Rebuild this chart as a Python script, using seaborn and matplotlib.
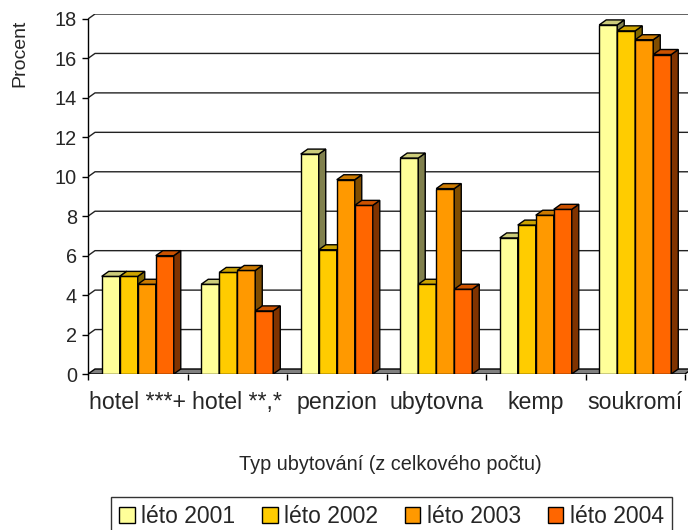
import numpy as np
import pandas as pd
import matplotlib
matplotlib.use("Agg")
import matplotlib.pyplot as plt
import seaborn as sns
from matplotlib.patches import Polygon, Patch
from matplotlib.colors import to_rgb

# ---------------- data ----------------
categories = ['hotel ***+', 'hotel **,*', 'penzion', 'ubytovna', 'kemp', 'soukromí']
series_names = ['léto 2001', 'léto 2002', 'léto 2003', 'léto 2004']
leto_2001 = [4.95, 4.55, 11.15, 10.95, 6.9, 17.7]
leto_2002 = [4.95, 5.15, 6.3, 4.55, 7.55, 17.4]
leto_2003 = [4.55, 5.25, 9.85, 9.4, 8.05, 16.95]
leto_2004 = [6.0, 3.2, 8.55, 4.3, 8.35, 16.2]
y_ticks = [0, 2, 4, 6, 8, 10, 12, 14, 16, 18]
colors = ['#FFFF99', '#FFCC00', '#FF9900', '#FF6600']
x_label = 'Typ ubytování (z celkového počtu)'
y_label = 'Procent'

series_values = [leto_2001, leto_2002, leto_2003, leto_2004]
df = pd.DataFrame({
    'Typ': [c for _ in series_names for c in categories],
    'Rok': [s for s in series_names for _ in categories],
    'Procent': [v for vals in series_values for v in vals],
})

# ---------------- style ----------------
sns.set_style('white')
plt.rcParams['font.family'] = ['Liberation Sans', 'DejaVu Sans']

W, H = 688, 530
fig = plt.figure(figsize=(W / 100, H / 100), dpi=100)
ax = fig.add_axes([88 / W, 1 - 374 / H, 600 / W, 360 / H])

sns.barplot(data=df, x='Typ', y='Procent', hue='Rok', order=categories,
            hue_order=series_names, palette=colors, width=0.724, saturation=1,
            edgecolor='black', linewidth=1, legend=False, errorbar=None, ax=ax)
ax.set_xlim(-0.5, -0.5 + 600 / 99.5)
ax.set_ylim(0, 18 * 360 / 355)

# depth offset (pixels -> data)
inv = ax.transData.inverted()
p0 = inv.transform((0, 0))
p1 = inv.transform((7, 5))
dx, dy = p1[0] - p0[0], p1[1] - p0[1]

x_lo, x_hi = ax.get_xlim()

# back-wall gridlines
for y in y_ticks[1:]:
    ax.plot([x_lo, x_lo + dx, x_hi + 1], [y, y + dy, y + dy], color='#222222',
            lw=1, zorder=1, clip_on=True)

# floor
floor = Polygon([(x_lo, 0), (5.5, 0), (5.5 + dx, dy), (x_lo + dx, dy)],
                closed=True, facecolor='#808080', edgecolor='black', lw=1, zorder=2)
ax.add_patch(floor)

# 3D faces
for j, cont in enumerate(ax.containers):
    base = np.array(to_rgb(colors[j]))
    top_c = base * 0.8
    side_c = base * 0.5
    for bar in cont:
        z = 3 + j
        bar.set_zorder(z)
        x0 = bar.get_x()
        w = bar.get_width()
        h = bar.get_height()
        x1 = x0 + w
        top = Polygon([(x0, h), (x1, h), (x1 + dx, h + dy), (x0 + dx, h + dy)],
                      closed=True, facecolor=top_c, edgecolor='black', lw=1, zorder=z)
        side = Polygon([(x1, 0), (x1 + dx, dy), (x1 + dx, h + dy), (x1, h)],
                       closed=True, facecolor=side_c, edgecolor='black', lw=1, zorder=z)
        ax.add_patch(side)
        ax.add_patch(top)

# axes / ticks
for s in ['top', 'right', 'bottom']:
    ax.spines[s].set_visible(False)
ax.spines['left'].set_color('black')
ax.spines['left'].set_linewidth(1)
ax.spines['left'].set_bounds(0, 18)
ax.spines['left'].set_zorder(10)

ax.set_yticks(y_ticks)
ax.set_yticklabels([str(t) for t in y_ticks])
ax.tick_params(axis='y', which='major', left=True, length=4, width=1,
               color='black', labelsize=14.3, pad=4, direction='out')

ax.set_xticks(np.arange(-0.5, len(categories), 1))
ax.set_xticklabels([])
ax.set_xticks(np.arange(len(categories)), minor=True)
ax.set_xticklabels(categories, minor=True)
ax.tick_params(axis='x', which='major', bottom=True, length=4.5, width=1,
               color='black', direction='out')
ax.tick_params(axis='x', which='minor', bottom=True, length=0, pad=12,
               labelsize=16.7)
ax.set_xlabel('')
ax.set_ylabel('')
ax.grid(False)

fig.text(20 / W, 1 - 53 / H, y_label, rotation=90, ha='center', va='center',
         fontsize=14)
fig.text(390 / W, 1 - 465 / H, x_label, ha='center', va='center', fontsize=14.3)

handles = [Patch(facecolor=c, edgecolor='black', lw=1) for c in colors]
leg = fig.legend(handles, series_names, loc='upper left',
                 bbox_to_anchor=(111 / W, 1 - 497 / H), ncol=4, fontsize=16.5,
                 frameon=True, fancybox=False, shadow=False, borderaxespad=0,
                 handlelength=0.68, handleheight=0.68, handletextpad=0.3,
                 columnspacing=1.15, borderpad=0.35)
leg.get_frame().set_edgecolor('black')
leg.get_frame().set_linewidth(1)

fig.savefig('out.png', dpi=100)
